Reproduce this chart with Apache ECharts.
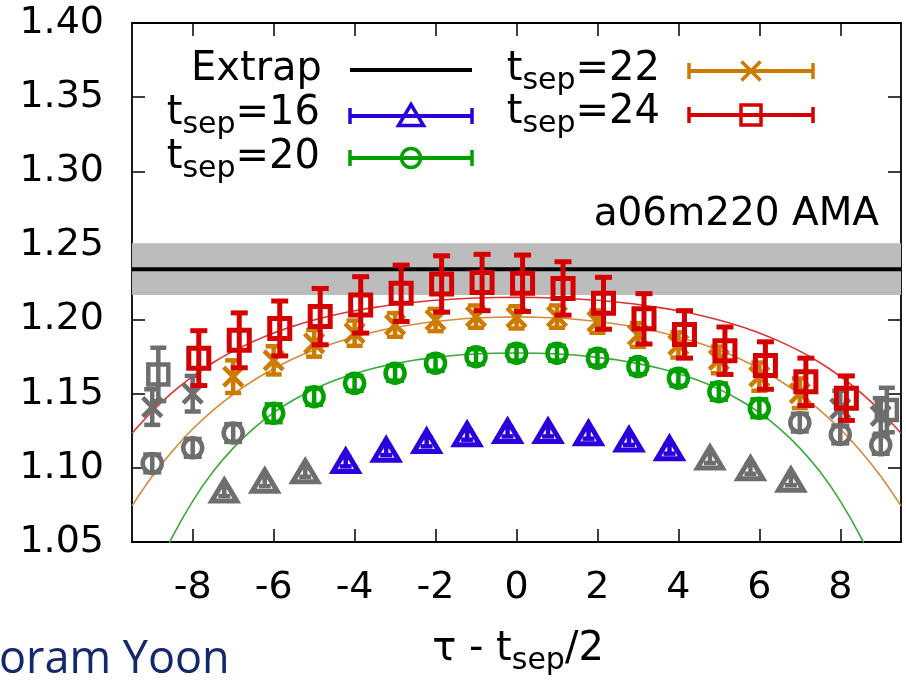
<!DOCTYPE html>
<html><head><meta charset="utf-8">
<script src="https://cdn.jsdelivr.net/npm/echarts@6/dist/echarts.min.js"></script>
<style>html,body{margin:0;padding:0;background:#fff}#c{width:906px;height:682px}</style>
</head><body><div id="c"></div>
<script>
// ---- axes ----
const xRange = [-9.5, 9.5];
const yRange = [1.05, 1.40];
const xTickVals = [-8, -6, -4, -2, 0, 2, 4, 6, 8];
const yTickVals = [1.05, 1.10, 1.15, 1.20, 1.25, 1.30, 1.35, 1.40];

// ---- extrapolated value ----
const extrapValue = 1.234;
const extrapError = 0.0174;

// ---- t_sep = 16 (triangles) ----
const t16X   = [-7.22,-6.22,-5.22,-4.22,-3.22,-2.22,-1.22,-0.22,0.78,1.78,2.78,3.78,4.78,5.78,6.78];
const t16Y   = [1.0840,1.0907,1.0970,1.1040,1.1116,1.1175,1.1220,1.1242,1.1242,1.1227,1.1185,1.1126,1.1063,1.0990,1.0913];
const t16Err = [0.003,0.003,0.003,0.003,0.003,0.003,0.003,0.003,0.003,0.003,0.003,0.003,0.003,0.003,0.003];
const t16Fit = [-4.5, 4.5];

// ---- t_sep = 20 (circles) ----
const t20X   = [-9,-8,-7,-6,-5,-4,-3,-2,-1,0,1,2,3,4,5,6,7,8,9];
const t20Y   = [1.1030,1.1135,1.1235,1.1368,1.1480,1.1570,1.1638,1.1705,1.1750,1.1773,1.1773,1.1740,1.1683,1.1604,1.1514,1.1402,1.1305,1.1225,1.1155];
const t20Err = [0.006,0.006,0.006,0.006,0.0055,0.005,0.005,0.005,0.005,0.005,0.005,0.005,0.005,0.005,0.0055,0.006,0.006,0.006,0.006];
const t20Fit = [-6.5, 6.5];

// ---- t_sep = 22 (crosses) ----
const t22X   = [-9,-8,-7,-6,-5,-4,-3,-2,-1,0,1,2,3,4,5,6,7,8,9];
const t22Y   = [1.1410,1.1500,1.1615,1.1725,1.1840,1.1908,1.1964,1.1997,1.2020,1.2015,1.2020,1.1986,1.1896,1.1829,1.1728,1.1615,1.1503,1.1400,1.1350];
const t22Err = [0.012,0.012,0.011,0.0095,0.009,0.0085,0.008,0.0075,0.0075,0.0075,0.0075,0.0075,0.008,0.0085,0.009,0.0095,0.010,0.012,0.012];
const t22Fit = [-7.5, 7.5];

// ---- t_sep = 24 (squares) ----
const t24X   = [-8.85,-7.85,-6.85,-5.85,-4.85,-3.85,-2.85,-1.85,-0.85,0.15,1.15,2.15,3.15,4.15,5.15,6.15,7.15,8.15,9.15];
const t24Y   = [1.1630,1.1740,1.1860,1.1940,1.2020,1.2099,1.2177,1.2240,1.2250,1.2245,1.2210,1.2110,1.2005,1.1900,1.1790,1.1690,1.1580,1.1470,1.1390];
const t24Err = [0.018,0.0185,0.0185,0.0185,0.019,0.019,0.019,0.019,0.019,0.019,0.018,0.0175,0.017,0.016,0.016,0.016,0.016,0.015,0.015];
const t24Fit = [-8.5, 8.5];

// ---- fit curves ----
const curveX     = [-9.5,-9,-8.5,-8,-7.5,-7,-6.5,-6,-5.5,-5,-4.5,-4,-3.5,-3,-2.5,-2,-1.5,-1,-0.5,0,
                    0.5,1,1.5,2,2.5,3,3.5,4,4.5,5,5.5,6,6.5,7,7.5,8,8.5,9,9.5];
const fit24Curve = [1.1233,1.1382,1.1509,1.1617,1.1709,1.1787,1.1853,1.1910,1.1957,1.1997,1.2031,1.2059,1.2082,1.2102,1.2117,1.2130,1.2139,1.2145,1.2149,1.2150,
                    1.2149,1.2145,1.2139,1.2130,1.2117,1.2102,1.2082,1.2059,1.2031,1.1997,1.1957,1.1910,1.1853,1.1787,1.1709,1.1617,1.1509,1.1382,1.1233];
const fit22Curve = [1.0744,1.0943,1.1114,1.1262,1.1388,1.1496,1.1589,1.1668,1.1737,1.1794,1.1842,1.1883,1.1918,1.1946,1.1969,1.1987,1.2001,1.2011,1.2016,1.2018,
                    1.2016,1.2011,1.2001,1.1987,1.1969,1.1946,1.1918,1.1883,1.1842,1.1794,1.1737,1.1668,1.1589,1.1496,1.1388,1.1262,1.1114,1.0943,1.0744];
const fit20Curve = [0.9885,1.0243,1.0536,1.0776,1.0973,1.1133,1.1264,1.1372,1.1459,1.1531,1.1589,1.1635,1.1673,1.1703,1.1727,1.1745,1.1759,1.1768,1.1773,1.1775,
                    1.1773,1.1768,1.1759,1.1745,1.1727,1.1703,1.1673,1.1635,1.1589,1.1531,1.1459,1.1372,1.1264,1.1133,1.0973,1.0776,1.0536,1.0243,0.9885];

// ---- colours ----
const C = { blue:'#2a00dc', green:'#00a000', orange:'#cc7a00', red:'#d40000', gray:'#6e6e6e',
            redLine:'#dd3333', orangeLine:'#d68a3a', greenLine:'#3aaa3a', band:'#bcbcbc' };
const FONT = 'DejaVu Sans';

function markerEls(kind, cx, cy, color, lw) {
  const st = () => ({ fill: 'none', stroke: color, lineWidth: lw });
  if (kind === 'square') { const s = 20; return [{ type:'rect', shape:{x:cx-s/2,y:cy-s/2,width:s,height:s}, style:st() }]; }
  if (kind === 'circle') { return [{ type:'circle', shape:{cx:cx,cy:cy,r:9.5}, style:st() }]; }
  if (kind === 'cross') { const h = 9.5; return [
      { type:'line', shape:{x1:cx-h,y1:cy-h,x2:cx+h,y2:cy+h}, style:st() },
      { type:'line', shape:{x1:cx-h,y1:cy+h,x2:cx+h,y2:cy-h}, style:st() } ]; }
  if (kind === 'triangle') { return [{ type:'polygon', shape:{points:[[cx,cy-11.5],[cx+12.5,cy+9.5],[cx-12.5,cy+9.5]]}, style:st() }]; }
  return [];
}

function errRender(kind, color, capHalf, lw) {
  return function (params, api) {
    const x = api.value(0), y = api.value(1), lo = api.value(2), hi = api.value(3);
    const p = api.coord([x, y]), pl = api.coord([x, lo]), ph = api.coord([x, hi]);
    const st = () => ({ stroke: color, lineWidth: lw, fill: 'none' });
    const ch = [
      { type:'line', shape:{x1:p[0],y1:pl[1],x2:p[0],y2:ph[1]}, style:st() },
      { type:'line', shape:{x1:p[0]-capHalf,y1:pl[1],x2:p[0]+capHalf,y2:pl[1]}, style:st() },
      { type:'line', shape:{x1:p[0]-capHalf,y1:ph[1],x2:p[0]+capHalf,y2:ph[1]}, style:st() }
    ].concat(markerEls(kind, p[0], p[1], color, kind === 'triangle' ? 5 : lw));
    return { type:'group', children: ch };
  };
}

function pts(xs, ys, es, keep) {
  const out = [];
  xs.forEach((x, i) => { if (keep(x)) out.push([x, ys[i], ys[i]-es[i], ys[i]+es[i]]); });
  return out;
}
function errSeries(name, xs, ys, es, fit, inside, kind, color, capHalf, z, lw) {
  const keep = inside ? (x => x >= fit[0] && x <= fit[1]) : (x => x < fit[0] || x > fit[1]);
  return { name, type:'custom', clip:true, z, encode:{x:0, y:1},
           renderItem: errRender(kind, color, capHalf, lw), data: pts(xs, ys, es, keep) };
}
function curve(ys, color) {
  return { type:'line', data: curveX.map((x, i) => [x, ys[i]]), showSymbol:false, smooth:0.3,
           clip:true, z:2, lineStyle:{ color, width:1.6 }, silent:true };
}

const chart = echarts.init(document.getElementById('c'), null, { renderer:'canvas' });

const axisLineStyle = { color:'#000', width:1.8 };
const sub = (fs, pad) => ({ fontSize: fs, fontFamily: FONT, fill:'#000', padding:[pad,0,0,0] });

// legend drawing helpers (graphic elements)
function legendSample(x1, x2, y, kind, color, caps) {
  const els = [{ type:'line', shape:{x1, y1:y, x2, y2:y}, style:{ stroke:color, lineWidth: 4 } }];
  if (caps) {
    els.push({ type:'line', shape:{x1:x1, y1:y-8, x2:x1, y2:y+8}, style:{stroke:color, lineWidth:3.5} });
    els.push({ type:'line', shape:{x1:x2, y1:y-8, x2:x2, y2:y+8}, style:{stroke:color, lineWidth:3.5} });
  }
  if (kind) markerEls(kind, (x1 + x2) / 2, y, color, 3.5).forEach(e => els.push(e));
  return els;
}
function label(text, x, y, align, fs) {
  return { type:'text', x, y, style:{ text, fontSize: fs || 40, fontFamily: FONT, fill:'#000',
           align, verticalAlign:'middle', rich:{ s: sub(30, 22) } } };
}

const graphics = [].concat(
  [label('Extrap', 322, 70, 'right')], legendSample(350, 472, 70, null, '#000', false),
  [label('t{s|sep}=16', 320, 114, 'right')], legendSample(350, 472, 116, 'triangle', C.blue, true),
  [label('t{s|sep}=20', 320, 158, 'right')], legendSample(350, 472, 158, 'circle', C.green, true),
  [label('t{s|sep}=22', 660, 70, 'right')], legendSample(689, 813, 71, 'cross', C.orange, true),
  [label('t{s|sep}=24', 660, 113, 'right')], legendSample(689, 813, 115, 'square', C.red, true),
  [label('a06m220 AMA', 879, 215, 'right', 39)],
  [label('τ - t{s|sep}/2', 518, 650, 'center')],
  [{ type:'text', x:-1, y:660, style:{ text:'oram Yoon', fontSize:45, fontFamily:'Open Sans', fill:'#14286e',
      align:'left', verticalAlign:'middle' } }]
);

chart.setOption({
  animation: false,
  backgroundColor: '#fff',
  grid: { left:132, right:5, top:23, bottom:140, containLabel:false },
  xAxis: [
    { type:'value', min:xRange[0], max:xRange[1], position:'bottom',
      axisLine:{ show:true, onZero:false, lineStyle:axisLineStyle },
      axisTick:{ show:true, inside:true, length:13, customValues:xTickVals, lineStyle:{color:'#000', width:1.5} },
      axisLabel:{ show:true, customValues:xTickVals, fontSize:38, fontFamily:FONT, color:'#000', margin:27,
                  formatter: v => String(v) },
      splitLine:{ show:false } },
    { type:'value', min:xRange[0], max:xRange[1], position:'top',
      axisLine:{ show:true, onZero:false, lineStyle:axisLineStyle },
      axisTick:{ show:true, inside:true, length:13, customValues:xTickVals, lineStyle:{color:'#000', width:1.5} },
      axisLabel:{ show:false }, splitLine:{ show:false } }
  ],
  yAxis: [
    { type:'value', min:yRange[0], max:yRange[1], position:'left',
      axisLine:{ show:true, onZero:false, lineStyle:axisLineStyle },
      axisTick:{ show:true, inside:true, length:13, customValues:yTickVals, lineStyle:{color:'#000', width:1.5} },
      axisLabel:{ show:true, customValues:yTickVals, fontSize:38, fontFamily:FONT, color:'#000', margin:28,
                  formatter: v => Number(v).toFixed(2) },
      splitLine:{ show:false } },
    { type:'value', min:yRange[0], max:yRange[1], position:'right',
      axisLine:{ show:true, onZero:false, lineStyle:axisLineStyle },
      axisTick:{ show:true, inside:true, length:13, customValues:yTickVals, lineStyle:{color:'#000', width:1.5} },
      axisLabel:{ show:false }, splitLine:{ show:false } }
  ],
  series: [
    { name:'band', type:'line', data:[], z:0, silent:true,
      markArea:{ silent:true, itemStyle:{ color:C.band, opacity:1 },
                 data:[[{ yAxis: extrapValue - extrapError }, { yAxis: extrapValue + extrapError }]] } },
    { name:'Extrap', type:'line', data:[[xRange[0], extrapValue], [xRange[1], extrapValue]], showSymbol:false,
      z:1, silent:true, lineStyle:{ color:'#000', width:4 } },
    curve(fit24Curve, C.redLine),
    curve(fit22Curve, C.orangeLine),
    curve(fit20Curve, C.greenLine),
    errSeries('g16', t16X, t16Y, t16Err, t16Fit, false, 'triangle', C.gray, 6, 3, 4.5),
    errSeries('g20', t20X, t20Y, t20Err, t20Fit, false, 'circle', C.gray, 9, 3, 4.5),
    errSeries('g22', t22X, t22Y, t22Err, t22Fit, false, 'cross', C.gray, 8, 3, 4.5),
    errSeries('g24', t24X, t24Y, t24Err, t24Fit, false, 'square', C.gray, 8, 3, 4.5),
    errSeries('t16', t16X, t16Y, t16Err, t16Fit, true, 'triangle', C.blue, 6, 4, 4.5),
    errSeries('t20', t20X, t20Y, t20Err, t20Fit, true, 'circle', C.green, 9, 4, 4.5),
    errSeries('t22', t22X, t22Y, t22Err, t22Fit, true, 'cross', C.orange, 8, 4, 4.5),
    errSeries('t24', t24X, t24Y, t24Err, t24Fit, true, 'square', C.red, 8.5, 5, 5)
  ],
  graphic: graphics
});
</script></body></html>
